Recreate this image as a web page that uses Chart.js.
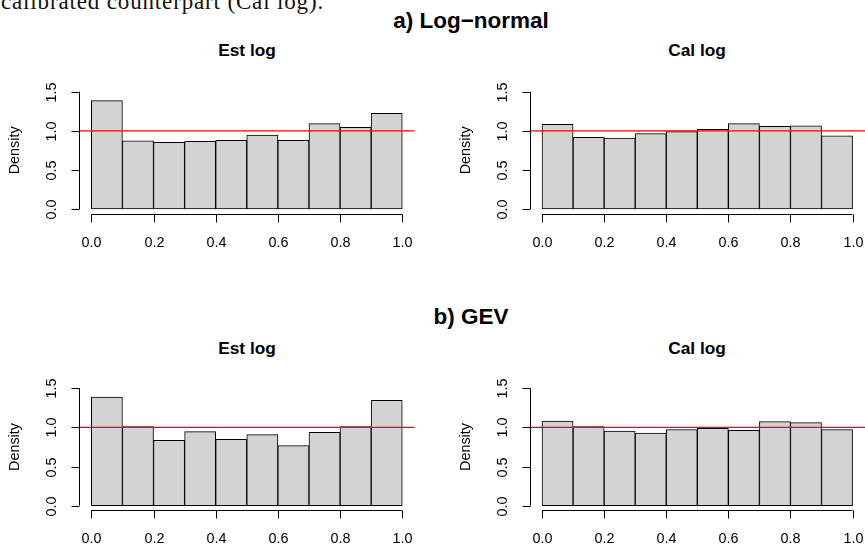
<!DOCTYPE html>
<html>
<head>
<meta charset="utf-8">
<script src="https://cdn.jsdelivr.net/npm/chart.js@4/dist/chart.umd.min.js"></script>
<style>
  html, body { margin: 0; padding: 0; background: #fff; }
  #wrap { position: relative; width: 865px; height: 547px; overflow: hidden; background: #fff; }
  canvas { position: absolute; left: 0; top: 0; }
  .t { position: absolute; transform: translate(-50%, -50%); white-space: nowrap; font-family: "Liberation Sans", Arial, sans-serif; font-weight: bold; color: #000; }
  .main { font-size: 17.3px; }
  .outer { font-size: 22.5px; }
  #cap { position: absolute; left: 1px; top: -10.3px; font-family: "Liberation Serif", "DejaVu Serif", serif; font-size: 23px; line-height: 1; white-space: nowrap; color: #111; }
</style>
</head>
<body>
<div id="wrap">
  <div id="cap">calibrated counterpart (Cal log).</div>
  <div class="t outer" style="left:471px; top:21px;">a) Log−normal</div>
  <div class="t outer" style="left:471px; top:317px;">b) GEV</div>
  <div class="t main" style="left:247px; top:50px;">Est log</div>
  <div class="t main" style="left:697px; top:50px;">Cal log</div>
  <div class="t main" style="left:247px; top:348px;">Est log</div>
  <div class="t main" style="left:697px; top:348px;">Cal log</div>
  <canvas id="c1" width="865" height="547"></canvas>
  <canvas id="c2" width="865" height="547"></canvas>
  <canvas id="c3" width="865" height="547"></canvas>
  <canvas id="c4" width="865" height="547"></canvas>
</div>
<script>
// ---- data ----
const binMids = [0.05, 0.15, 0.25, 0.35, 0.45, 0.55, 0.65, 0.75, 0.85, 0.95];
const lnEst = [1.385, 0.873, 0.852, 0.865, 0.878, 0.946, 0.878, 1.091, 1.044, 1.223];
const lnCal = [1.082, 0.916, 0.908, 0.963, 0.990, 1.018, 1.091, 1.057, 1.065, 0.937];
const gevEst = [1.389, 1.010, 0.835, 0.946, 0.848, 0.908, 0.767, 0.937, 1.010, 1.346];
const gevCal = [1.082, 1.010, 0.954, 0.929, 0.971, 0.988, 0.963, 1.074, 1.061, 0.971];
const uniformDensity = 1;
const xTicks = [0, 0.2, 0.4, 0.6, 0.8, 1.0];
const xTickLabels = ['0.0', '0.2', '0.4', '0.6', '0.8', '1.0'];
const yTicks = [0, 0.5, 1.0, 1.5];
const yTickLabels = ['0.0', '0.5', '1.0', '1.5'];
const yAxisTitle = 'Density';
const xMin = -0.04, xMax = 1.04, yMin = -0.06, yMax = 1.56;

// fit the cropped caption line to its width in the reference
(function () {
  const cap = document.getElementById('cap');
  const c = document.createElement('canvas').getContext('2d');
  c.font = '23px "Liberation Serif"';
  const w = c.measureText(cap.textContent).width;
  cap.style.letterSpacing = ((323 - w) / cap.textContent.length) + 'px';
})();

// ---- R-style axes plugin ----
const rAxes = {
  id: 'rAxes',
  afterDraw(chart) {
    const { ctx, chartArea: a, scales: { x, y } } = chart;
    ctx.save();
    ctx.strokeStyle = '#000';
    ctx.fillStyle = '#000';
    ctx.lineWidth = 1;
    ctx.font = '14.4px "Liberation Sans", Arial, sans-serif';
    const tick = 8;
    // y axis
    const ax = Math.round(a.left) + 0.5;
    ctx.beginPath();
    ctx.moveTo(ax, y.getPixelForValue(yTicks[0]));
    ctx.lineTo(ax, y.getPixelForValue(yTicks[yTicks.length - 1]));
    ctx.stroke();
    yTicks.forEach((v, i) => {
      const py = Math.round(y.getPixelForValue(v)) + 0.5;
      ctx.beginPath(); ctx.moveTo(ax - tick, py); ctx.lineTo(ax, py); ctx.stroke();
      ctx.save();
      ctx.translate(a.left - 27, py);
      ctx.rotate(-Math.PI / 2);
      ctx.textAlign = 'center'; ctx.textBaseline = 'middle';
      ctx.fillText(yTickLabels[i], 0, 0);
      ctx.restore();
    });
    ctx.save();
    ctx.translate(a.left - 64, (y.getPixelForValue(yMin) + y.getPixelForValue(yMax)) / 2);
    ctx.rotate(-Math.PI / 2);
    ctx.textAlign = 'center'; ctx.textBaseline = 'middle';
    ctx.fillText(yAxisTitle, 0, 0);
    ctx.restore();
    // x axis
    const ay = Math.round(a.bottom) + 0.5;
    ctx.beginPath();
    ctx.moveTo(x.getPixelForValue(xTicks[0]), ay);
    ctx.lineTo(x.getPixelForValue(xTicks[xTicks.length - 1]), ay);
    ctx.stroke();
    xTicks.forEach((v, i) => {
      const px = Math.round(x.getPixelForValue(v)) + 0.5;
      ctx.beginPath(); ctx.moveTo(px, ay); ctx.lineTo(px, ay + tick); ctx.stroke();
      ctx.textAlign = 'center'; ctx.textBaseline = 'middle';
      ctx.fillText(xTickLabels[i], px, a.bottom + 29);
    });
    ctx.restore();
  }
};

function makeHist(id, values, pad) {
  new Chart(document.getElementById(id), {
    type: 'bar',
    data: {
      datasets: [
        {
          type: 'line',
          data: [{ x: xMin, y: uniformDensity }, { x: xMax, y: uniformDensity }],
          borderColor: '#ff0000',
          borderWidth: 1.2,
          pointRadius: 0,
          fill: false,
          order: 0
        },
        {
          type: 'bar',
          data: binMids.map((m, i) => ({ x: m, y: values[i] })),
          backgroundColor: '#d3d3d3',
          borderColor: '#000',
          borderWidth: 1,
          borderSkipped: false,
          barPercentage: 1,
          categoryPercentage: 1,
          order: 1
        }
      ]
    },
    options: {
      responsive: false,
      animation: false,
      events: [],
      layout: { padding: pad },
      plugins: { legend: { display: false }, tooltip: { enabled: false }, title: { display: false } },
      scales: {
        x: { type: 'linear', min: xMin, max: xMax, display: false, offset: false },
        y: { type: 'linear', min: yMin, max: yMax, display: false }
      }
    },
    plugins: [rAxes]
  });
}

makeHist('c1', lnEst, { left: 78.9, right: 450.3, top: 87.0, bottom: 333.3 });
makeHist('c2', lnCal, { left: 529.6, right: 0, top: 87.0, bottom: 333.3 });
makeHist('c3', gevEst, { left: 78.9, right: 450.3, top: 383.6, bottom: 36.6 });
makeHist('c4', gevCal, { left: 529.6, right: 0, top: 383.6, bottom: 36.6 });
</script>
</body>
</html>
